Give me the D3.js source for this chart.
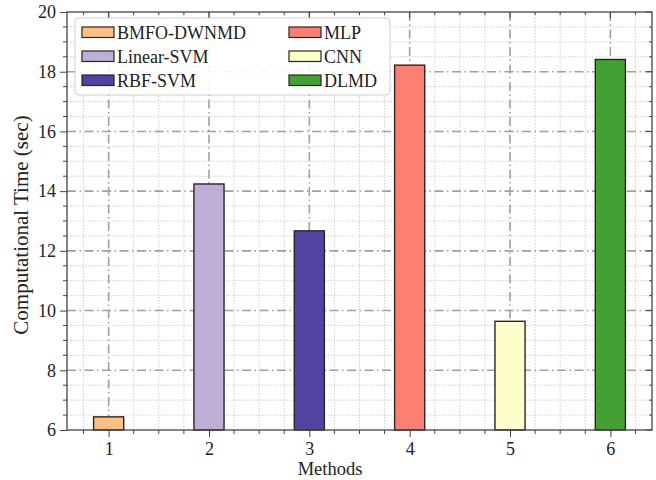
<!DOCTYPE html>
<html>
<head>
<meta charset="utf-8">
<script src="https://cdn.jsdelivr.net/npm/d3@7"></script>
<style>
  html, body { margin: 0; padding: 0; background: #fff; }
  svg { display: block; }
  text { font-family: "Liberation Serif", "Times New Roman", serif; fill: #222; }
</style>
</head>
<body>
<svg id="chart" width="656" height="480"></svg>
<script>
// Computational time per method
const methodIds = [1, 2, 3, 4, 5, 6];
const methodNames = ["BMFO-DWNMD", "Linear-SVM", "RBF-SVM", "MLP", "CNN", "DLMD"];
const compTimes = [6.44, 14.24, 12.67, 18.22, 9.64, 18.41];
const barColors = ["#fdbf86", "#bfaed5", "#5442a0", "#fb8072", "#fdfdca", "#45a033"];
const yTickValues = [6, 8, 10, 12, 14, 16, 18, 20];
const xTickValues = [1, 2, 3, 4, 5, 6];

const svg = d3.select("#chart");
const plotL = 67, plotR = 652, plotT = 12, plotB = 430;
const barWidth = 0.3;

const x = d3.scaleLinear().domain([0.585, 6.415]).range([plotL, plotR]);
const y = d3.scaleLinear().domain([6, 20]).range([plotB, plotT]);

const xMinor = d3.range(0.75, 6.4, 0.25).filter(v => Math.abs(v - Math.round(v)) > 1e-6);
const yMinor = d3.range(6.5, 20, 0.5).filter(v => Math.abs(v - Math.round(v)) > 1e-6 || Math.round(v) % 2 === 1);

// Grid: minor dotted, major dash-dot
const grid = svg.append("g");
grid.selectAll(".vminor").data(xMinor).join("line")
  .attr("x1", d => x(d)).attr("x2", d => x(d)).attr("y1", plotT).attr("y2", plotB)
  .attr("stroke", "#d0d0d0").attr("stroke-width", 1).attr("stroke-dasharray", "1.5,1.5");
grid.selectAll(".hminor").data(yMinor).join("line")
  .attr("x1", plotL).attr("x2", plotR).attr("y1", d => y(d)).attr("y2", d => y(d))
  .attr("stroke", "#d0d0d0").attr("stroke-width", 1).attr("stroke-dasharray", "1.5,1.5");
grid.selectAll(".vmajor").data(xTickValues).join("line")
  .attr("x1", d => x(d)).attr("x2", d => x(d)).attr("y1", plotT).attr("y2", plotB)
  .attr("stroke", "#a0a0a0").attr("stroke-width", 1.6).attr("stroke-dasharray", "9,3.5,1.5,3.5");
grid.selectAll(".hmajor").data(yTickValues.slice(1, -1)).join("line")
  .attr("x1", plotL).attr("x2", plotR).attr("y1", d => y(d)).attr("y2", d => y(d))
  .attr("stroke", "#a0a0a0").attr("stroke-width", 1.6).attr("stroke-dasharray", "9,3.5,1.5,3.5");

// Bars
svg.append("g").selectAll("rect").data(methodIds).join("rect")
  .attr("x", (d) => x(d - barWidth / 2))
  .attr("width", (d) => x(d + barWidth / 2) - x(d - barWidth / 2))
  .attr("y", (d, i) => y(compTimes[i]))
  .attr("height", (d, i) => y(6) - y(compTimes[i]))
  .attr("fill", (d, i) => barColors[i])
  .attr("stroke", "#262626").attr("stroke-width", 1.4);

// Axes
const xAxis = svg.append("g").attr("transform", `translate(0,${plotB})`)
  .call(d3.axisBottom(x).tickValues(xTickValues).tickFormat(d3.format("d")).tickSize(7).tickPadding(5));
xAxis.append("g").selectAll("line").data(xMinor).join("line")
  .attr("x1", d => x(d)).attr("x2", d => x(d)).attr("y1", 0).attr("y2", 4).attr("stroke", "#444");

const yAxis = svg.append("g").attr("transform", `translate(${plotL},0)`)
  .call(d3.axisLeft(y).tickValues(yTickValues).tickFormat(d3.format("d")).tickSize(7).tickPadding(4));
yAxis.append("g").selectAll("line").data(yMinor).join("line")
  .attr("x1", 0).attr("x2", -4).attr("y1", d => y(d)).attr("y2", d => y(d)).attr("stroke", "#444");

// Top and right inward ticks
const innerTicks = svg.append("g");
innerTicks.selectAll(".tm").data(xTickValues).join("line")
  .attr("x1", d => x(d)).attr("x2", d => x(d)).attr("y1", plotT).attr("y2", plotT + 6).attr("stroke", "#444");
innerTicks.selectAll(".tn").data(xMinor).join("line")
  .attr("x1", d => x(d)).attr("x2", d => x(d)).attr("y1", plotT).attr("y2", plotT + 3).attr("stroke", "#444");
innerTicks.selectAll(".rm").data(yTickValues).join("line")
  .attr("x1", plotR).attr("x2", plotR - 6).attr("y1", d => y(d)).attr("y2", d => y(d)).attr("stroke", "#444");
innerTicks.selectAll(".rn").data(yMinor).join("line")
  .attr("x1", plotR).attr("x2", plotR - 3).attr("y1", d => y(d)).attr("y2", d => y(d)).attr("stroke", "#444");

[xAxis, yAxis].forEach(a => {
  a.select(".domain").remove();
  a.selectAll(".tick line").attr("stroke", "#444");
  a.selectAll(".tick text").style("font-family", '"Liberation Serif", serif').style("font-size", "18px").attr("fill", "#222");
});

// Frame
svg.append("rect").attr("x", plotL).attr("y", plotT).attr("width", plotR - plotL).attr("height", plotB - plotT)
  .attr("fill", "none").attr("stroke", "#444").attr("stroke-width", 1.3);

// Axis titles
svg.append("text").attr("x", 330).attr("y", 475).attr("text-anchor", "middle")
  .style("font-size", "18.5px").text("Methods");
svg.append("text").attr("transform", `translate(28,${(plotT + plotB) / 2 + 4}) rotate(-90)`)
  .attr("text-anchor", "middle").style("font-size", "21px").text("Computational Time (sec)");

// Legend (two columns, filled column-first)
const legend = svg.append("g");
legend.append("rect").attr("x", 75).attr("y", 18).attr("width", 315).attr("height", 77).attr("rx", 4)
  .attr("fill", "#fff").attr("fill-opacity", 0.9).attr("stroke", "#cfcfcf").attr("stroke-width", 1);
const items = legend.selectAll(".item").data(methodNames).join("g")
  .attr("transform", (d, i) => `translate(${i < 3 ? 82 : 289},${32 + (i % 3) * 24})`);
items.append("rect").attr("x", 0).attr("y", -5).attr("width", 32).attr("height", 10.5)
  .attr("fill", (d, i) => barColors[i]).attr("stroke", "#262626").attr("stroke-width", 1.2);
items.append("text").attr("x", 35).attr("y", 6.5).style("font-size", "18px").text(d => d);
</script>
</body>
</html>
